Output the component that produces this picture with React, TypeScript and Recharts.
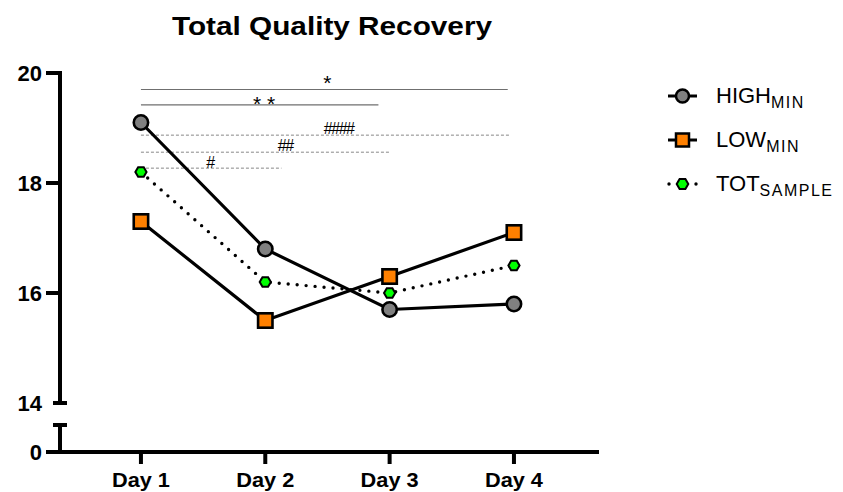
import { LineChart, Line, XAxis, YAxis, ReferenceLine, ReferenceDot } from 'recharts';

const FONT = '"Liberation Sans", Arial, Helvetica, sans-serif';

// days on the x axis
const DAY_TICKS = [1, 2, 3, 4];
const DAY_LABELS = ['Day 1', 'Day 2', 'Day 3', 'Day 4'];

// series values
const HIGH_MIN = [19.1, 16.8, 15.7, 15.8];
const LOW_MIN = [17.3, 15.5, 16.3, 17.1];
const TOT_SAMPLE = [18.2, 16.2, 16.0, 16.5];

const Y_TICKS = [14, 16, 18, 20];

// significance bars: [from day, to day, y level]
const STAR_BARS = [
  [1, 3.95, 19.7],
  [1, 2.91, 19.42],
];
const STAR_TEXT = ['*', '* *'];
const STAR_TEXT_AT = [
  [2.5, 19.82],
  [1.99, 19.45],
];
const HASH_BARS = [
  [1, 3.96, 18.87],
  [1, 3.0, 18.56],
  [1, 2.13, 18.27],
];
const HASH_TEXT = ['####', '##', '#'];
const HASH_TEXT_AT = [
  [2.59, 19.0],
  [2.16, 18.69],
  [1.555, 18.37],
];

const X_DOMAIN = [0.349, 4.684];

const data = DAY_TICKS.map((d, i) => ({
  day: d,
  high: HIGH_MIN[i],
  low: LOW_MIN[i],
  tot: TOT_SAMPLE[i],
}));

const GRAY = '#808080';
const ORANGE = '#ff8000';
const GREEN = '#00ff00';

const hexPoints = (cx: number, cy: number, r: number) =>
  [0, 60, 120, 180, 240, 300]
    .map((a) => {
      const t = (a * Math.PI) / 180;
      return `${cx + r * Math.cos(t)},${cy + r * Math.sin(t)}`;
    })
    .join(' ');

const circleDot = (p: any) => (
  <circle key={`h${p.index}`} cx={p.cx} cy={p.cy} r={7.2} fill={GRAY} stroke="#000" strokeWidth={2.6} />
);
const squareDot = (p: any) => (
  <rect key={`l${p.index}`} x={p.cx - 7.2} y={p.cy - 7.2} width={14.4} height={14.4} fill={ORANGE} stroke="#000" strokeWidth={2.6} />
);
const hexDot = (p: any) => (
  <polygon key={`t${p.index}`} points={hexPoints(p.cx, p.cy, 5.6)} fill={GREEN} stroke="#000" strokeWidth={2} />
);

const topYTick = (p: any) => {
  const { x, y, payload } = p;
  const isBreak = payload.value === 14;
  return (
    <g>
      <line x1={isBreak ? x - 7 : x - 14} x2={isBreak ? x + 7 : x} y1={y} y2={y} stroke="#000" strokeWidth={4} />
      <text x={x - 18} y={y + 8} textAnchor="end" fontSize={22} fontWeight={700} fill="#000" fontFamily={FONT}>
        {payload.value}
      </text>
    </g>
  );
};

const bottomYTick = (p: any) => {
  const { x, y, payload } = p;
  if (payload.value !== 0) {
    return <line x1={x - 7} x2={x + 7} y1={y} y2={y} stroke="#000" strokeWidth={4} />;
  }
  return (
    <g>
      <line x1={x - 14} x2={x} y1={y} y2={y} stroke="#000" strokeWidth={4} />
      <text x={x - 18} y={y + 8} textAnchor="end" fontSize={22} fontWeight={700} fill="#000" fontFamily={FONT}>
        0
      </text>
    </g>
  );
};

const dayTick = (p: any) => {
  const { x, y, payload } = p;
  return (
    <text
      x={x}
      y={y + 21}
      textAnchor="middle"
      fontSize={21}
      fontWeight={700}
      fill="#000"
      fontFamily={FONT}
      textLength={58}
      lengthAdjust="spacingAndGlyphs"
    >
      {DAY_LABELS[DAY_TICKS.indexOf(payload.value)]}
    </text>
  );
};

const legendItems = [
  { main: 'HIGH', sub: 'MIN', y: 96, marker: 'circle' },
  { main: 'LOW', sub: 'MIN', y: 140, marker: 'square' },
  { main: 'TOT', sub: 'SAMPLE', y: 184, marker: 'hex' },
];

function Legendish() {
  return (
    <g fontFamily={FONT} fill="#000">
      {legendItems.map((it) => (
        <g key={it.main}>
          {it.marker === 'hex' ? (
            <g>
              <circle cx={669} cy={it.y} r={1.7} fill="#000" />
              <circle cx={696} cy={it.y} r={1.7} fill="#000" />
            </g>
          ) : (
            <line x1={668} x2={697} y1={it.y} y2={it.y} stroke="#000" strokeWidth={3} />
          )}
          {it.marker === 'circle' && <circle cx={682.5} cy={it.y} r={6.5} fill={GRAY} stroke="#000" strokeWidth={2.5} />}
          {it.marker === 'square' && (
            <rect x={676} y={it.y - 6.5} width={13} height={13} fill={ORANGE} stroke="#000" strokeWidth={2.5} />
          )}
          {it.marker === 'hex' && <polygon points={hexPoints(682.5, it.y, 5.8)} fill={GREEN} stroke="#000" strokeWidth={2} />}
          <text x={716} y={it.y + 7} fontSize={22}>
            {it.main}
            <tspan fontSize={16} dy={5} letterSpacing={1.5}>
              {it.sub}
            </tspan>
          </text>
        </g>
      ))}
    </g>
  );
}

export default function App() {
  return (
    <div style={{ position: 'relative', width: 843, height: 492, background: '#fff', fontFamily: FONT }}>
      <style>{'body{margin:0}'}</style>

      {/* lower stub of the broken y axis, with the day axis */}
      <div style={{ position: 'absolute', left: 0, top: 0 }}>
        <LineChart width={843} height={492} data={data} margin={{ top: 425, right: 244, bottom: 0, left: 10 }}>
          <XAxis
            dataKey="day"
            type="number"
            domain={X_DOMAIN}
            allowDataOverflow
            ticks={DAY_TICKS}
            height={40}
            axisLine={{ stroke: '#000', strokeWidth: 4 }}
            tickLine={{ stroke: '#000', strokeWidth: 4 }}
            tickSize={12}
            tick={dayTick}
          />
          <YAxis
            type="number"
            domain={[0, 1]}
            allowDataOverflow
            ticks={[0, 1]}
            width={50}
            axisLine={{ stroke: '#000', strokeWidth: 4 }}
            tickLine={false}
            tickSize={0}
            tickMargin={0}
            tick={bottomYTick}
          />
        </LineChart>
      </div>

      {/* main plot, 14 to 20 */}
      <div style={{ position: 'absolute', left: 0, top: 0 }}>
        <LineChart width={843} height={420} data={data} margin={{ top: 73, right: 244, bottom: 17, left: 10 }}>
          <XAxis dataKey="day" type="number" domain={X_DOMAIN} allowDataOverflow ticks={DAY_TICKS} hide />
          <YAxis
            type="number"
            domain={[14, 20]}
            allowDataOverflow
            ticks={Y_TICKS}
            width={50}
            axisLine={{ stroke: '#000', strokeWidth: 4, strokeLinecap: 'square' }}
            tickLine={false}
            tickSize={0}
            tickMargin={0}
            tick={topYTick}
          />

          {STAR_BARS.map(([a, b, y], i) => (
            <ReferenceLine
              key={`s${i}`}
              segment={[
                { x: a, y },
                { x: b, y },
              ]}
              stroke="#6f6f6f"
              strokeWidth={1.1}
            />
          ))}
          {HASH_BARS.map(([a, b, y], i) => (
            <ReferenceLine
              key={`hb${i}`}
              segment={[
                { x: a, y },
                { x: b, y },
              ]}
              stroke="#888"
              strokeWidth={1}
              strokeDasharray="3 2"
            />
          ))}
          {STAR_TEXT.map((t, i) => (
            <ReferenceDot
              key={`st${i}`}
              x={STAR_TEXT_AT[i][0]}
              y={STAR_TEXT_AT[i][1]}
              r={0}
              fill="none"
              stroke="none"
              label={{ value: t, position: 'center', fontSize: 21, fill: '#000', fontFamily: FONT }}
            />
          ))}
          {HASH_TEXT.map((t, i) => (
            <ReferenceDot
              key={`ht${i}`}
              x={HASH_TEXT_AT[i][0]}
              y={HASH_TEXT_AT[i][1]}
              r={0}
              fill="none"
              stroke="none"
              label={{ value: t, position: 'center', fontSize: 16, fill: '#000', fontFamily: FONT, letterSpacing: -1.5 }}
            />
          ))}

          <Line
            dataKey="high"
            stroke="#000"
            strokeWidth={3.2}
            dot={circleDot}
            activeDot={false}
            isAnimationActive={false}
          />
          <Line
            dataKey="low"
            stroke="#000"
            strokeWidth={3.2}
            dot={squareDot}
            activeDot={false}
            isAnimationActive={false}
          />
          <Line
            dataKey="tot"
            stroke="#000"
            strokeWidth={3.4}
            strokeDasharray="0 9"
            strokeLinecap="round"
            dot={hexDot}
            activeDot={false}
            isAnimationActive={false}
          />
        </LineChart>
      </div>

      {/* title and key */}
      <svg width={843} height={492} style={{ position: 'absolute', left: 0, top: 0, pointerEvents: 'none' }}>
        <text
          x={332}
          y={35}
          textAnchor="middle"
          fontSize={26}
          fontWeight={700}
          fontFamily={FONT}
          textLength={320}
          lengthAdjust="spacingAndGlyphs"
        >
          Total Quality Recovery
        </text>
        <Legendish />
      </svg>
    </div>
  );
}
